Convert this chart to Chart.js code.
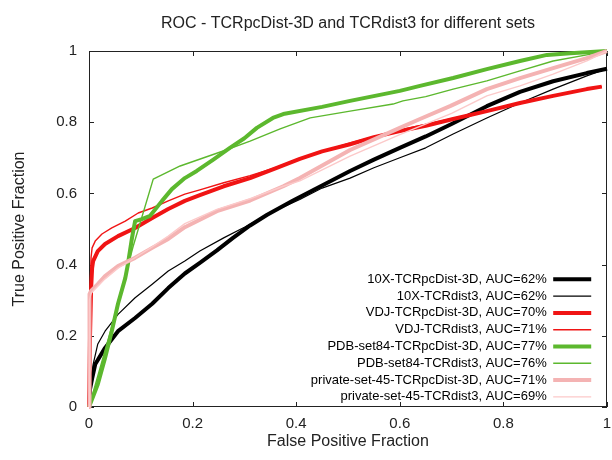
<!DOCTYPE html>
<html>
<head>
<meta charset="utf-8">
<script src="https://cdn.jsdelivr.net/npm/chart.js@4.4.1/dist/chart.umd.min.js"></script>
<style>
  html, body { margin: 0; padding: 0; background: #fff; }
  #roc { display: block; }
</style>
</head>
<body>
<canvas id="roc" width="612" height="460"></canvas>
<script>
// Axis ticks
const xTicks = [0, 0.2, 0.4, 0.6, 0.8, 1];
const yTicks = [0, 0.2, 0.4, 0.6, 0.8, 1];

// 10X set
const tenxPcFpr = [0, 0.002, 0.006, 0.012, 0.031, 0.056, 0.089, 0.122, 0.153, 0.185, 0.214, 0.247, 0.278, 0.311, 0.344, 0.394, 0.45, 0.504, 0.55, 0.6, 0.65, 0.7, 0.768, 0.832, 0.896, 0.961, 1];
const tenxPcTpr = [0, 0.05, 0.08, 0.12, 0.166, 0.213, 0.25, 0.29, 0.334, 0.375, 0.405, 0.44, 0.475, 0.51, 0.54, 0.58, 0.622, 0.663, 0.695, 0.728, 0.76, 0.795, 0.845, 0.885, 0.915, 0.938, 0.95];
const tenxDistFpr = [0, 0.003, 0.008, 0.017, 0.031, 0.056, 0.089, 0.122, 0.153, 0.185, 0.214, 0.26, 0.3, 0.35, 0.407, 0.45, 0.504, 0.55, 0.6, 0.65, 0.703, 0.768, 0.832, 0.896, 0.961, 1];
const tenxDistTpr = [0, 0.065, 0.12, 0.177, 0.213, 0.26, 0.307, 0.345, 0.382, 0.41, 0.438, 0.475, 0.505, 0.545, 0.583, 0.615, 0.643, 0.672, 0.7, 0.728, 0.767, 0.812, 0.854, 0.893, 0.93, 0.95];

// VDJ set
const vdjPcFpr = [0, 0.002, 0.004, 0.006, 0.008, 0.017, 0.031, 0.056, 0.089, 0.122, 0.153, 0.185, 0.214, 0.26, 0.311, 0.36, 0.407, 0.45, 0.504, 0.55, 0.6, 0.65, 0.703, 0.768, 0.832, 0.896, 0.961, 0.99];
const vdjPcTpr = [0, 0.2, 0.33, 0.39, 0.41, 0.438, 0.458, 0.48, 0.503, 0.531, 0.556, 0.579, 0.595, 0.62, 0.643, 0.67, 0.697, 0.718, 0.738, 0.758, 0.775, 0.79, 0.809, 0.831, 0.854, 0.874, 0.893, 0.9];
const vdjDistFpr = [0, 0.002, 0.004, 0.006, 0.012, 0.025, 0.044, 0.07, 0.095, 0.122, 0.153, 0.185, 0.214, 0.26, 0.311, 0.36, 0.407, 0.504, 0.6, 0.7, 0.768, 0.832, 0.896, 0.961, 0.99];
const vdjDistTpr = [0, 0.3, 0.42, 0.447, 0.466, 0.486, 0.503, 0.522, 0.545, 0.559, 0.579, 0.598, 0.61, 0.63, 0.65, 0.672, 0.698, 0.742, 0.778, 0.81, 0.832, 0.855, 0.875, 0.894, 0.9];

// PDB-set84
const pdbPcFpr = [0, 0.017, 0.031, 0.044, 0.056, 0.07, 0.075, 0.083, 0.089, 0.102, 0.118, 0.141, 0.16, 0.185, 0.208, 0.24, 0.272, 0.3, 0.324, 0.355, 0.375, 0.45, 0.504, 0.6, 0.639, 0.703, 0.768, 0.832, 0.884, 0.929, 1];
const pdbPcTpr = [0, 0.064, 0.138, 0.213, 0.29, 0.362, 0.4, 0.475, 0.522, 0.528, 0.537, 0.579, 0.612, 0.643, 0.663, 0.695, 0.728, 0.755, 0.784, 0.812, 0.823, 0.843, 0.86, 0.888, 0.902, 0.924, 0.949, 0.972, 0.989, 0.994, 1];
const pdbDistFpr = [0, 0.04, 0.085, 0.124, 0.176, 0.259, 0.311, 0.369, 0.427, 0.504, 0.587, 0.606, 0.65, 0.703, 0.768, 0.832, 0.896, 0.961, 1];
const pdbDistTpr = [0, 0.205, 0.45, 0.64, 0.677, 0.719, 0.747, 0.781, 0.812, 0.831, 0.851, 0.86, 0.872, 0.893, 0.916, 0.944, 0.972, 0.989, 1];

// private-set-45
const privPcFpr = [0, 0.001, 0.004, 0.017, 0.031, 0.056, 0.089, 0.122, 0.153, 0.185, 0.247, 0.311, 0.375, 0.407, 0.504, 0.6, 0.639, 0.697, 0.768, 0.832, 0.896, 0.961, 1];
const privPcTpr = [0, 0.317, 0.326, 0.345, 0.368, 0.396, 0.419, 0.447, 0.472, 0.505, 0.55, 0.58, 0.62, 0.643, 0.722, 0.784, 0.809, 0.845, 0.893, 0.924, 0.952, 0.98, 1];
const privDistFpr = [0, 0.001, 0.004, 0.017, 0.031, 0.056, 0.089, 0.122, 0.153, 0.185, 0.247, 0.311, 0.375, 0.407, 0.504, 0.6, 0.7, 0.768, 0.832, 0.896, 0.961, 1];
const privDistTpr = [0, 0.3, 0.32, 0.34, 0.36, 0.39, 0.42, 0.45, 0.48, 0.515, 0.555, 0.585, 0.62, 0.635, 0.705, 0.765, 0.825, 0.874, 0.902, 0.935, 0.972, 1];

const seriesLabels = [
  '10X-TCRpcDist-3D, AUC=62%',
  '10X-TCRdist3, AUC=62%',
  'VDJ-TCRpcDist-3D, AUC=70%',
  'VDJ-TCRdist3, AUC=71%',
  'PDB-set84-TCRpcDist-3D, AUC=77%',
  'PDB-set84-TCRdist3, AUC=76%',
  'private-set-45-TCRpcDist-3D, AUC=71%',
  'private-set-45-TCRdist3, AUC=69%',
];
const seriesFpr = [tenxPcFpr, tenxDistFpr, vdjPcFpr, vdjDistFpr, pdbPcFpr, pdbDistFpr, privPcFpr, privDistFpr];
const seriesTpr = [tenxPcTpr, tenxDistTpr, vdjPcTpr, vdjDistTpr, pdbPcTpr, pdbDistTpr, privPcTpr, privDistTpr];
const seriesColors = ['#000000', '#000000', '#f01414', '#f01414', '#5cb82e', '#5cb82e', '#f4b3b3', '#fcc9c9'];
const seriesWidths = [4, 1.2, 4, 1.4, 4, 1.4, 4, 1.4];

const FONT = "'Liberation Sans', Arial, sans-serif";
const INK = '#222';

function toPoints(xs, ys) {
  return xs.map((x, i) => ({ x, y: ys[i] }));
}

// gnuplot style labels: 0, 0.2, ... 1
function tickText(v) {
  return String(Number(v.toFixed(1)));
}

const datasets = seriesLabels.map((label, i) => ({
  label,
  data: toPoints(seriesFpr[i], seriesTpr[i]),
  borderColor: seriesColors[i],
  backgroundColor: seriesColors[i],
  borderWidth: seriesWidths[i],
  pointRadius: 0,
  tension: 0,
  borderJoinStyle: 'round',
  clip: 6,
  // later series are drawn on top, like gnuplot
  order: seriesLabels.length - i,
}));

// frame with inward ticks on all four sides
const framePlugin = {
  id: 'frame',
  beforeDatasetsDraw(chart) {
    const { ctx, chartArea: a, scales } = chart;
    const len = 5;
    ctx.save();
    ctx.strokeStyle = INK;
    ctx.lineWidth = 1;
    ctx.strokeRect(a.left + 0.5, a.top + 0.5, a.right - a.left - 1, a.bottom - a.top - 1);
    ctx.beginPath();
    xTicks.forEach((v) => {
      const px = Math.round(scales.x.getPixelForValue(v)) + 0.5;
      ctx.moveTo(px, a.bottom); ctx.lineTo(px, a.bottom - len);
      ctx.moveTo(px, a.top); ctx.lineTo(px, a.top + len);
    });
    yTicks.forEach((v) => {
      const py = Math.round(scales.y.getPixelForValue(v)) + 0.5;
      ctx.moveTo(a.left, py); ctx.lineTo(a.left + len, py);
      ctx.moveTo(a.right, py); ctx.lineTo(a.right - len, py);
    });
    ctx.stroke();
    ctx.restore();
  },
};

// put the legend inside the plot, bottom right
const legendPlacer = {
  id: 'legendPlacer',
  beforeDraw(chart) {
    const lg = chart.legend;
    const a = chart.chartArea;
    lg.left = a.left;
    lg.right = a.right - 12;
    lg.top = a.bottom - 138;
    // plenty of slack below so no row is pushed into a second column
    lg.bottom = a.bottom + 40;
    lg.width = lg.right - lg.left;
    lg.height = lg.bottom - lg.top;
  },
};

new Chart(document.getElementById('roc').getContext('2d'), {
  type: 'line',
  data: { datasets },
  options: {
    responsive: false,
    animation: false,
    layout: { padding: { left: 0, right: 4, top: 0, bottom: 0 } },
    plugins: {
      title: {
        display: true,
        text: 'ROC - TCRpcDist-3D and TCRdist3 for different sets',
        fullSize: false,
        color: INK,
        font: { family: FONT, size: 16, weight: 'normal' },
        padding: { top: 13.5, bottom: 18.3 },
      },
      legend: {
        position: 'right',
        maxWidth: 1,
        align: 'start',
        rtl: true,
        textDirection: 'ltr',
        labels: {
          color: INK,
          font: { family: FONT, size: 13 },
          usePointStyle: true,
          pointStyleWidth: 38,
          padding: 3.8,
          generateLabels: (chart) => chart.data.datasets.map((ds, i) => ({
            text: ds.label,
            strokeStyle: ds.borderColor,
            fillStyle: ds.borderColor,
            lineWidth: ds.borderWidth,
            lineCap: 'butt',
            pointStyle: 'line',
            hidden: false,
            datasetIndex: i,
          })),
        },
      },
      tooltip: { enabled: false },
    },
    scales: {
      x: {
        type: 'linear',
        min: 0,
        max: 1,
        grid: { display: false, drawTicks: false },
        border: { display: false },
        ticks: {
          stepSize: 0.2,
          color: INK,
          padding: 8,
          font: { family: FONT, size: 15 },
          callback: tickText,
        },
        title: {
          display: true,
          text: 'False Positive Fraction',
          color: INK,
          font: { family: FONT, size: 16 },
          padding: { top: 0, bottom: 8.4 },
        },
        afterFit(scale) {
          scale.height = 53;
          scale.paddingRight = 0;
        },
      },
      y: {
        type: 'linear',
        min: 0,
        max: 1,
        grid: { display: false, drawTicks: false },
        border: { display: false },
        ticks: {
          stepSize: 0.2,
          color: INK,
          padding: 12,
          font: { family: FONT, size: 15 },
          callback: tickText,
        },
        title: {
          display: true,
          text: 'True Positive Fraction',
          color: INK,
          font: { family: FONT, size: 16 },
          padding: { top: 10.4, bottom: 0 },
        },
        afterFit(scale) { scale.width = 89; },
      },
    },
  },
  plugins: [framePlugin, legendPlacer],
});
</script>
</body>
</html>
